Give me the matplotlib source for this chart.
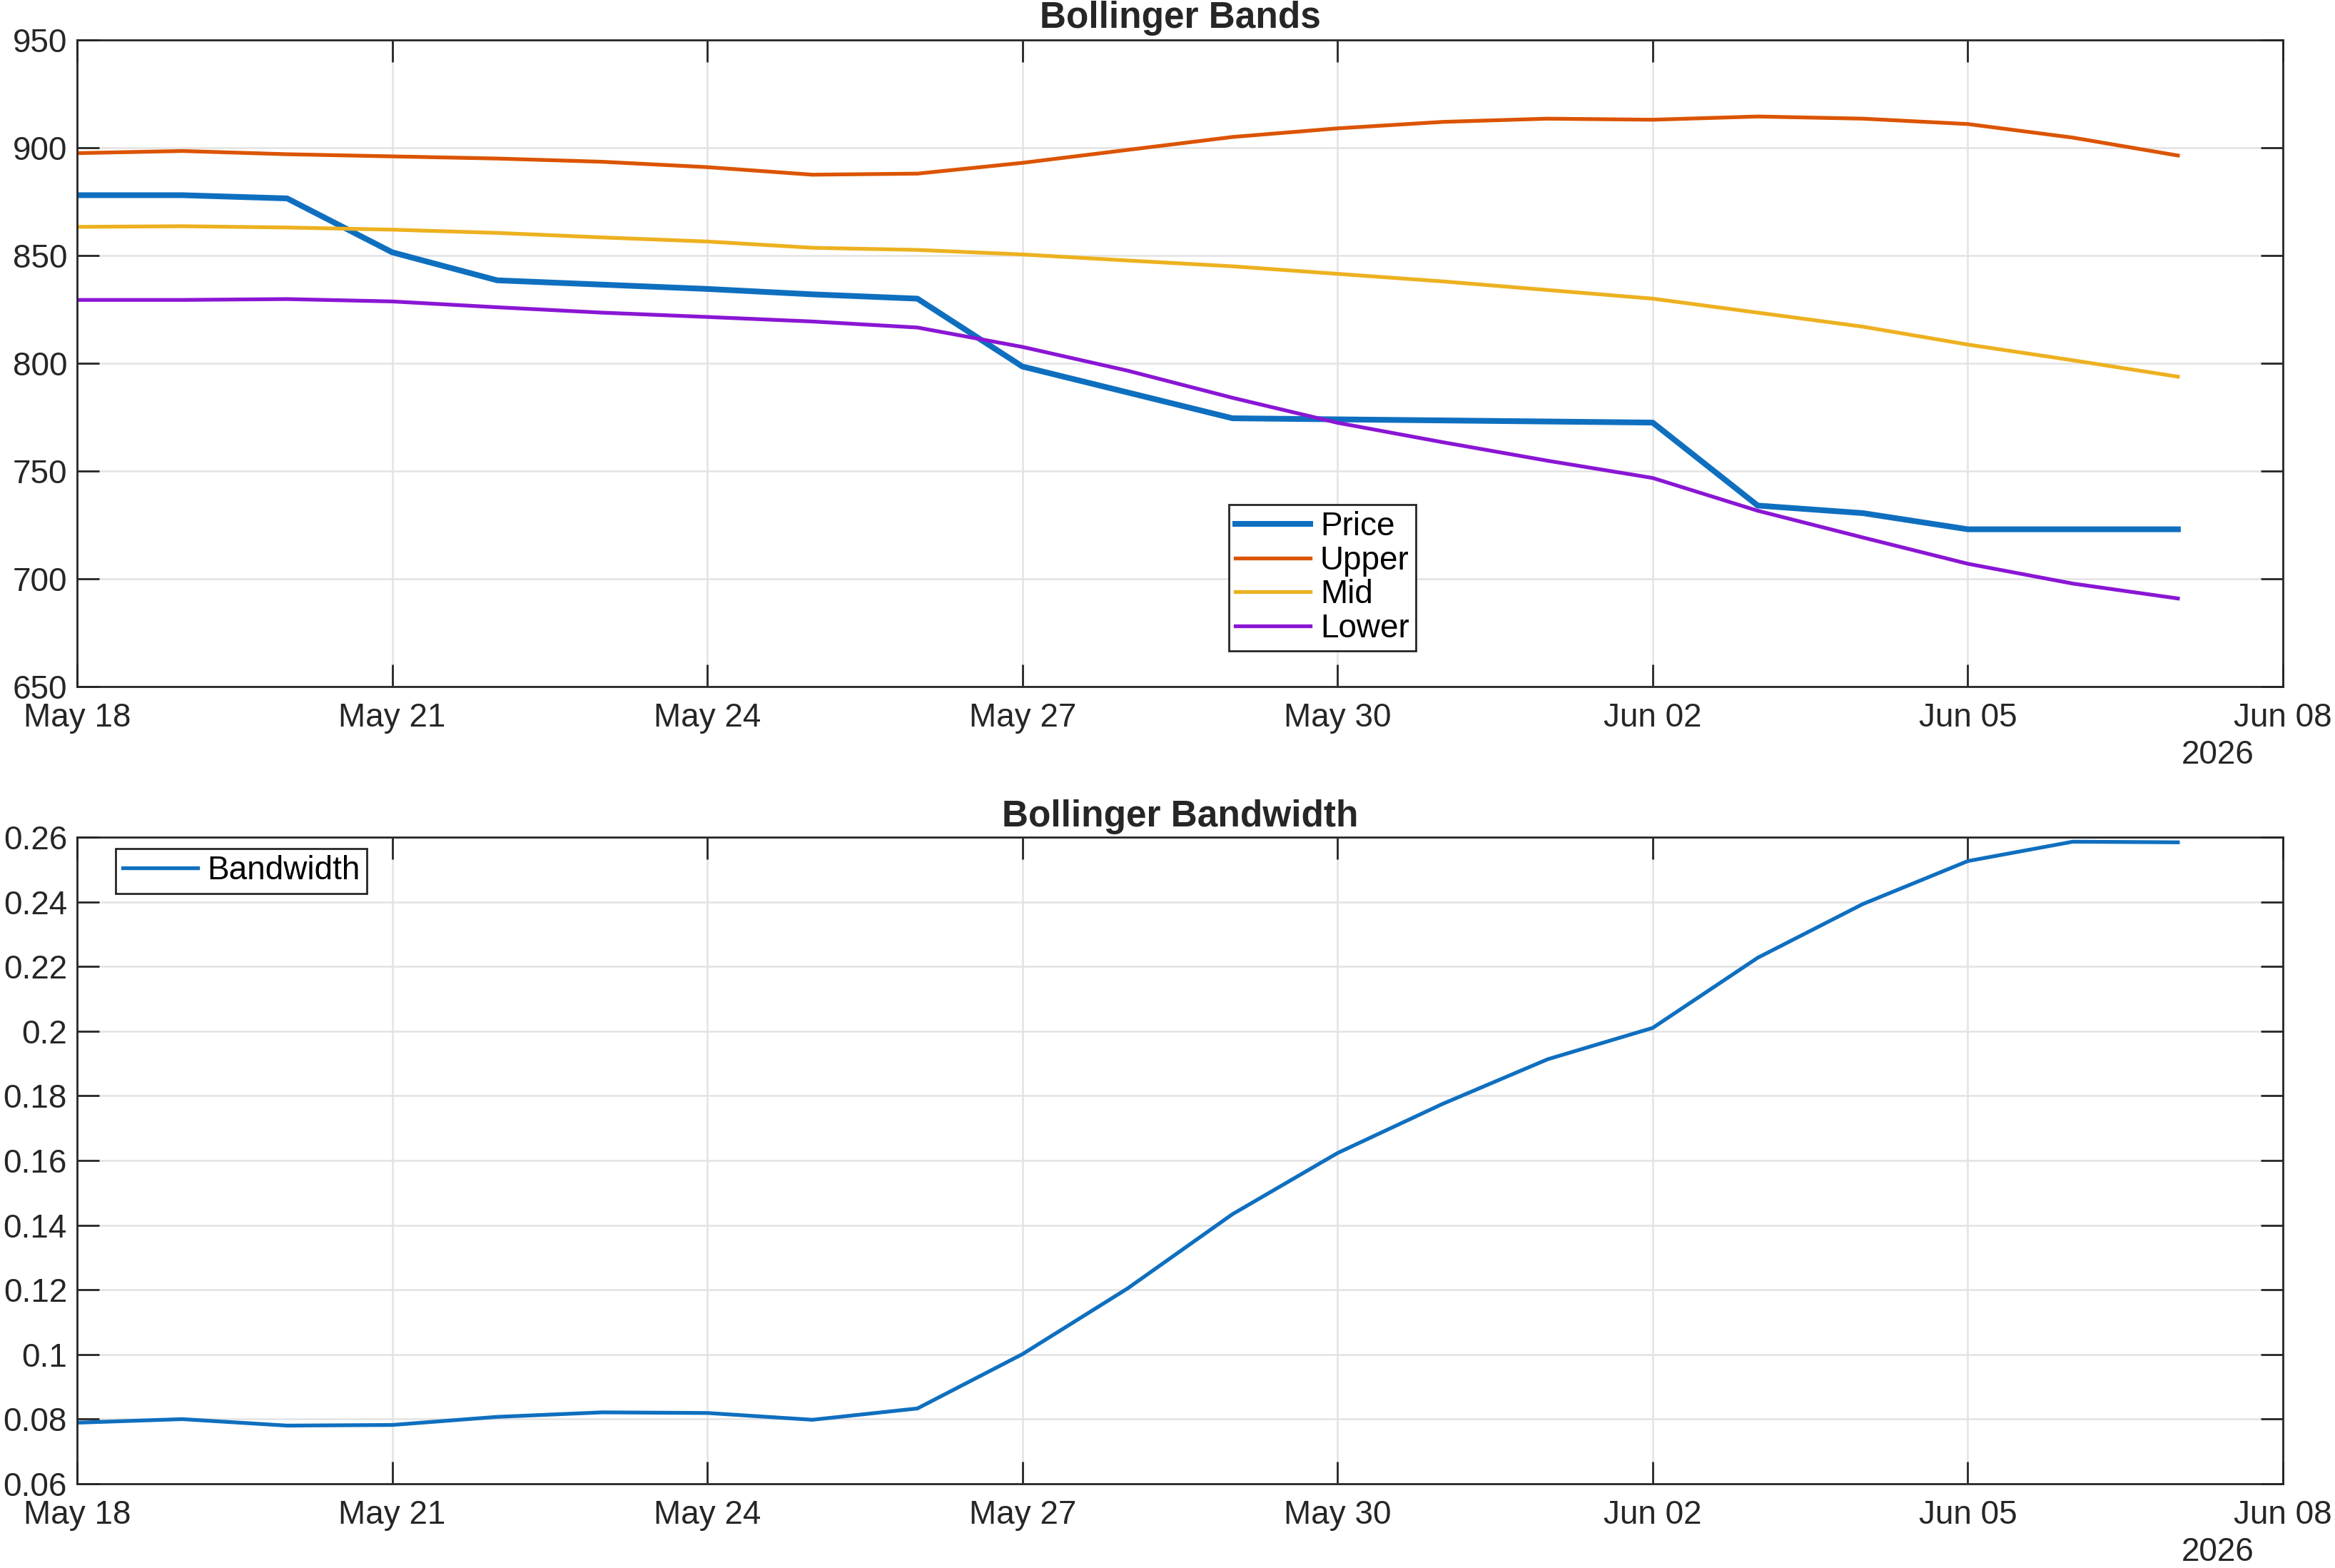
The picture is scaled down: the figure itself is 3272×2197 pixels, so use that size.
import matplotlib
matplotlib.use("Agg")
import matplotlib.pyplot as plt
import matplotlib.dates as mdates
from matplotlib.ticker import FuncFormatter, MultipleLocator
import pandas as pd

plt.rcParams['font.family'] = ['Liberation Sans', 'DejaVu Sans']

# daily values, 18 May - 07 Jun 2026
dates = pd.date_range('2026-05-18', '2026-06-07', freq='D')

price = [878, 878, 876.5, 851.5, 838.5, 836.5, 834.5, 832, 830, 798.5, 786.5, 774.5,
         774, 773.5, 773, 772.5, 734, 730.5, 723, 723, 723]
upper = [897.5, 898.5, 897, 896, 895, 893.5, 891, 887.5, 888, 893, 899, 905,
         909, 912, 913.5, 913, 914.5, 913.5, 911, 904.7, 896.4]
mid = [863.3, 863.6, 863, 862, 860.5, 858.4, 856.5, 853.6, 852.6, 850.5, 847.7, 845,
       841.5, 838, 834, 830, 823.5, 817, 808.7, 801.4, 793.8]
lower = [829.4, 829.4, 829.8, 828.7, 826, 823.5, 821.5, 819.4, 816.6, 807.6, 796.6, 784,
         772.4, 763.4, 754.8, 746.8, 731.6, 719.2, 707, 697.8, 690.9]
bandwidth = [0.0789, 0.0800, 0.0780, 0.0782, 0.0807, 0.0821, 0.0819, 0.0798, 0.0833, 0.1001,
             0.1204, 0.1434, 0.1623, 0.1775, 0.1913, 0.2010, 0.2227, 0.2393, 0.2526, 0.2586,
             0.2584]

c_blue = '#0f6fbf'
c_orange = '#db5400'
c_yellow = '#edb120'
c_purple = '#8a16d4'
txt = '#262626'
fs = 16.5

fig = plt.figure(figsize=(16.36, 10.985), dpi=200)
ax1 = fig.add_axes([0.033, 0.5621, 0.9447, 0.4124])
ax2 = fig.add_axes([0.033, 0.0537, 0.9447, 0.4124])


def style(ax):
    ax.set_xlim(pd.Timestamp('2026-05-18'), pd.Timestamp('2026-06-08'))
    ax.xaxis.set_major_locator(mdates.DayLocator(interval=3))
    ax.xaxis.set_major_formatter(mdates.DateFormatter('%b %d'))
    ax.grid(True, color='#e3e3e3', linewidth=0.9)
    ax.set_axisbelow(True)
    ax.tick_params(direction='in', length=11, width=1.0, top=True, right=True,
                   labelsize=fs, colors=txt)
    ax.tick_params(axis='x', pad=8)
    ax.tick_params(axis='y', pad=5)
    for s in ax.spines.values():
        s.set_color(txt)
        s.set_linewidth(1.0)
    ax.text(0.9705, -0.082, '2026', transform=ax.transAxes, ha='center', va='top',
            fontsize=fs, color=txt)


ax1.plot(dates, price, color=c_blue, lw=2.9, label='Price')
ax1.plot(dates, upper, color=c_orange, lw=1.9, label='Upper')
ax1.plot(dates, mid, color=c_yellow, lw=1.9, label='Mid')
ax1.plot(dates, lower, color=c_purple, lw=1.9, label='Lower')
ax1.set_ylim(650, 950)
ax1.yaxis.set_major_locator(MultipleLocator(50))
style(ax1)
ax1.set_title('Bollinger Bands', fontsize=18.5, fontweight='bold', color=txt, pad=6)
leg = ax1.legend(loc='lower left', bbox_to_anchor=(0.522, 0.055), fontsize=fs,
                 frameon=True, fancybox=False, framealpha=1, edgecolor=txt,
                 handlelength=2.3, handletextpad=0.3, borderpad=0.2, labelspacing=0.08,
                 borderaxespad=0)
leg.get_frame().set_linewidth(1.0)

ax2.plot(dates, bandwidth, color=c_blue, lw=1.9, label='Bandwidth')
ax2.set_ylim(0.06, 0.26)
ax2.yaxis.set_major_locator(MultipleLocator(0.02))
ax2.yaxis.set_major_formatter(FuncFormatter(lambda v, p: '%g' % round(v, 4)))
style(ax2)
ax2.set_title('Bollinger Bandwidth', fontsize=18.5, fontweight='bold', color=txt, pad=5.5)
leg2 = ax2.legend(loc='upper left', bbox_to_anchor=(0.0176, 0.982), fontsize=fs,
                  frameon=True, fancybox=False, framealpha=1, edgecolor=txt,
                  handlelength=2.3, handletextpad=0.3, borderpad=0.2, borderaxespad=0)
leg2.get_frame().set_linewidth(1.0)

fig.savefig('out.png', dpi=200)
